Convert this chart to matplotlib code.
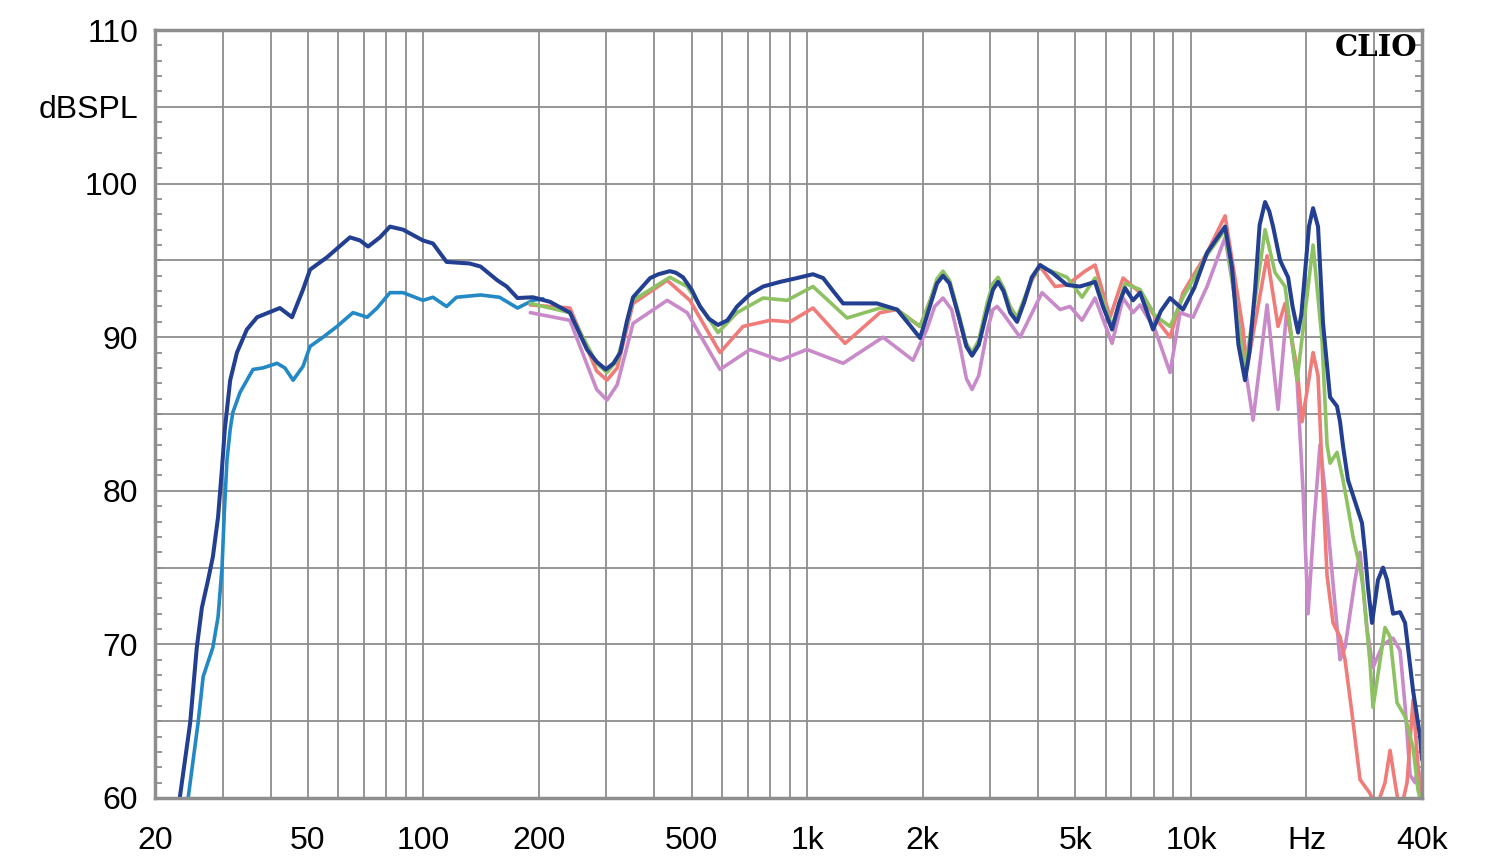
import numpy as np
import matplotlib.pyplot as plt
from matplotlib.ticker import FixedLocator, MultipleLocator, NullFormatter

# frequency response curves (Hz, dBSPL)
nf_freq = [24.4, 25.9, 26.7, 28.3, 29.2, 29.9, 30.3, 30.8, 31.4, 31.9, 33.3, 36.0, 38.2, 41.6,
           43.6, 45.8, 48.6, 50.7, 54.8, 59.6, 65.6, 71.4, 75.8, 81.9, 88.6, 99.8, 106, 115,
           122, 141, 158, 176, 193, 205]
nf_db = [60.0, 64.9, 67.9, 69.8, 71.8, 75.0, 78.5, 82.0, 84.0, 85.1, 86.4, 87.9, 88.0, 88.3,
         88.0, 87.2, 88.1, 89.4, 90.0, 90.7, 91.6, 91.3, 91.9, 92.9, 92.9, 92.4, 92.6, 92.0,
         92.6, 92.75, 92.6, 91.9, 92.4, 92.5]

navy_freq = [23.2, 24.7, 25.7, 26.5, 27.5, 28.3, 29.2, 29.9, 30.4, 31.4, 32.7, 34.7, 36.9, 42.3,
             45.5, 48.6, 50.7, 56.1, 64.4, 68.4, 71.8, 77.1, 81.9, 88.6, 99.8, 106, 115, 132,
             141, 156, 165, 176, 193, 214, 241, 267, 283, 299, 313, 326, 339, 352, 390, 410,
             439, 455, 475, 500, 526, 555, 586, 620, 657, 710, 768, 850, 941, 1036, 1101, 1170,
             1241, 1521, 1715, 1850, 1969, 2100, 2180, 2260, 2350, 2480, 2600, 2690, 2800,
             2950, 3050, 3144, 3250, 3380, 3524, 3680, 3850, 4046, 4350, 4756, 5140, 5626,
             5900, 6230, 6500, 6736, 7066, 7370, 7650, 7968, 8350, 8824, 9538, 10200, 11016,
             12276, 12800, 13300, 13836, 14200, 14694, 15100, 15602, 16000, 16370, 17070,
             17912, 18400, 19018, 19400, 19830, 20300, 20808, 21438, 22092, 23038, 24024,
             24462, 24908, 25664, 27086, 27912, 28420, 28934, 29636, 30722, 31660, 32436,
             33624, 35070, 36136, 37910, 39540, 40000]
navy_db = [60.0, 64.9, 69.8, 72.4, 74.2, 75.7, 78.3, 81.5, 84.0, 87.2, 89.0, 90.5, 91.3, 91.9,
           91.3, 93.1, 94.4, 95.2, 96.5, 96.3, 95.9, 96.5, 97.2, 97.0, 96.3, 96.1, 94.9, 94.8,
           94.6, 93.7, 93.3, 92.55, 92.6, 92.3, 91.6, 89.2, 88.4, 87.9, 88.3, 89.0, 91.0, 92.6,
           93.85, 94.1, 94.3, 94.2, 93.9, 93.1, 92.0, 91.2, 90.8, 91.1, 92.0, 92.8, 93.3, 93.6,
           93.85, 94.1, 93.85, 93.0, 92.2, 92.2, 91.8, 90.8, 89.95, 92.2, 93.5, 94.0, 93.5,
           91.4, 89.4, 88.8, 89.5, 91.8, 93.1, 93.6, 93.0, 91.6, 91.0, 92.3, 93.9, 94.7, 94.2,
           93.4, 93.3, 93.6, 92.0, 90.5, 92.2, 93.2, 92.4, 92.9, 91.8, 90.5, 91.7, 92.55, 91.8,
           93.2, 95.5, 97.2, 94.5, 89.5, 87.2, 89.0, 93.1, 97.3, 98.8, 98.2, 97.2, 95.0, 93.9,
           92.0, 90.3, 91.5, 94.2, 97.2, 98.4, 97.2, 90.9, 86.1, 85.5, 84.5, 82.9, 80.7, 78.9,
           77.9, 76.0, 73.7, 71.4, 74.2, 75.0, 74.2, 72.0, 72.1, 71.4, 67.0, 64.0, 62.5]

green_freq = [190, 241, 283, 301, 320, 352, 439, 487, 586, 657, 768, 887, 1036, 1271, 1549,
              1715, 1969, 2100, 2180, 2260, 2350, 2480, 2600, 2690, 2800, 2950, 3050, 3144,
              3250, 3380, 3524, 3850, 4046, 4756, 5204, 5626, 6230, 6736, 7370, 8064, 8824,
              9538, 11016, 12276, 13836, 15602, 16566, 17592, 18904, 20808, 21958, 22628,
              23038, 24024, 24908, 25664, 26444, 27580, 28080, 29284, 29814, 32042, 33026,
              34438, 36136, 37910, 39068, 40000]
green_db = [92.2, 91.6, 88.3, 87.7, 88.5, 92.4, 93.9, 93.3, 90.3, 91.6, 92.55, 92.4, 93.3, 91.25,
            91.9, 91.8, 90.7, 92.5, 93.8, 94.3, 93.7, 91.6, 89.6, 89.0, 89.8, 92.3, 93.5, 93.9,
            93.2, 92.0, 91.3, 93.8, 94.6, 93.9, 92.6, 93.85, 90.7, 93.5, 93.1, 91.4, 90.7, 92.6,
            95.35, 97.0, 87.8, 97.0, 94.2, 93.3, 87.2, 96.0, 89.8, 83.0, 81.8, 82.5, 80.7, 78.9,
            77.0, 75.0, 73.7, 68.8, 65.9, 71.1, 70.5, 66.2, 65.3, 63.3, 60.5, 59.5]

red_freq = [190, 241, 283, 301, 320, 352, 432, 495, 593, 681, 801, 903, 1036, 1256, 1549, 1715,
            1969, 2100, 2180, 2260, 2350, 2480, 2600, 2690, 2800, 2950, 3050, 3144, 3250, 3380,
            3524, 3850, 4046, 4426, 4756, 5300, 5626, 6156, 6656, 7370, 8162, 8824, 9538, 11016,
            12276, 13674, 14004, 15790, 16866, 17592, 18904, 19478, 20074, 20808, 21438, 22092,
            22628, 23456, 24462, 25208, 26286, 27580, 29284, 30354, 32042, 33026, 34028, 35070,
            36572, 37910, 39068, 40000]
red_db = [92.1, 91.9, 87.8, 87.2, 88.0, 92.2, 93.7, 92.4, 89.0, 90.7, 91.1, 91.0, 91.9, 89.6,
          91.6, 91.8, 90.7, 92.5, 93.7, 94.2, 93.6, 91.4, 89.4, 88.8, 89.6, 92.1, 93.3, 93.7,
          93.0, 91.8, 91.1, 93.7, 94.6, 93.3, 93.4, 94.3, 94.7, 91.3, 93.85, 92.9, 91.1, 90.0,
          92.9, 95.5, 97.9, 90.5, 88.0, 95.3, 90.7, 92.2, 88.0, 84.5, 86.5, 89.0, 87.5, 80.0,
          74.5, 71.4, 70.5, 69.0, 65.5, 61.2, 60.3, 59.3, 61.0, 63.1, 61.0, 59.0, 61.0, 66.4,
          62.0, 59.0]

pink_freq = [190, 241, 283, 301, 320, 352, 432, 487, 593, 710, 850, 999, 1241, 1577, 1888, 2050,
             2150, 2260, 2380, 2500, 2600, 2690, 2800, 2950, 3050, 3126, 3250, 3588, 4094, 4560,
             4842, 5204, 5626, 6230, 6656, 7066, 7370, 8064, 8824, 9370, 10128, 11016, 12276,
             13190, 14518, 15790, 16866, 17804, 18904, 19594, 20194, 20932, 21696, 22358, 23038,
             24462, 25208, 26762, 27580, 28762, 29814, 31660, 33624, 35070, 36136, 37236, 38368,
             39068, 40000]
pink_db = [91.6, 91.1, 86.6, 85.9, 86.9, 90.9, 92.4, 91.6, 87.9, 89.2, 88.5, 89.2, 88.3, 90.0,
           88.5, 90.5, 92.0, 92.55, 91.8, 89.5, 87.3, 86.6, 87.5, 90.5, 91.8, 92.0, 91.5, 90.0,
           92.9, 91.8, 92.0, 91.1, 92.55, 89.6, 92.55, 91.6, 92.1, 90.5, 87.7, 91.6, 91.3, 93.3,
           96.5, 91.6, 84.6, 92.1, 85.3, 92.0, 87.2, 80.0, 72.0, 78.0, 83.0, 80.0, 76.1, 69.0,
           69.8, 74.2, 76.0, 71.0, 68.5, 70.0, 70.4, 69.6, 66.0, 61.5, 61.0, 62.0, 60.0]

x_ticks = [20, 50, 100, 200, 500, 1000, 2000, 5000, 10000, 20000, 40000]
x_labels = ["20", "50", "100", "200", "500", "1k", "2k", "5k", "10k", "Hz", "40k"]
y_ticks = [60, 70, 80, 90, 100, 105, 110]
y_labels = ["60", "70", "80", "90", "100", "dBSPL", "110"]

plt.rcParams['font.family'] = ['Liberation Sans', 'DejaVu Sans']

fig = plt.figure(figsize=(15, 8.64), dpi=100)
ax = fig.add_axes([155 / 1500, 1 - 798 / 864, 1267 / 1500, 768 / 864])

grid_col = "#8e8e8e"
# vertical grid at every 1-2-3..9 step of each decade
vlines = [m * 10 ** d for d in range(1, 5) for m in range(1, 10)]
vlines = [v for v in vlines if 20 <= v <= 40000]
for v in vlines:
    ax.axvline(v, color=grid_col, lw=1.3, zorder=1)
for h in range(60, 111, 5):
    ax.axhline(h, color=grid_col, lw=1.3, zorder=1)

line_kw = dict(solid_joinstyle="round", solid_capstyle="round")
ax.plot(nf_freq, nf_db, color="#2389c6", lw=2.6, zorder=3, **line_kw)
ax.plot(pink_freq, pink_db, color="#c98ac9", lw=2.6, zorder=3, **line_kw)
ax.plot(red_freq, red_db, color="#f07c7a", lw=2.6, zorder=3, **line_kw)
ax.plot(green_freq, green_db, color="#8dc162", lw=2.6, zorder=3, **line_kw)
ax.plot(navy_freq, navy_db, color="#233f91", lw=2.9, zorder=4, **line_kw)

ax.set_xscale("log")
ax.set_xlim(20, 40000)
ax.set_ylim(60, 110)

ax.xaxis.set_major_locator(FixedLocator(x_ticks))
ax.set_xticklabels(x_labels)
ax.xaxis.set_minor_formatter(NullFormatter())
ax.tick_params(axis="x", which="both", length=0, pad=20, labelsize=23)

ax.yaxis.set_major_locator(FixedLocator(y_ticks))
ax.set_yticklabels(y_labels)
ax.yaxis.set_minor_locator(MultipleLocator(1))
ax.tick_params(axis="y", which="both", direction="in", length=5, width=1.3,
               color=grid_col, left=True, right=True, labelsize=23, pad=12)
ax.tick_params(axis="y", which="major", length=0)

for s in ax.spines.values():
    s.set_color(grid_col)
    s.set_linewidth(2.5)
    s.set_zorder(5)

ax.text(0.996, 0.977, "CLIO", transform=ax.transAxes, ha="right", va="center",
        fontsize=21, fontweight="bold", family=["DejaVu Serif"], zorder=6)

fig.savefig("out.png", dpi=100)
